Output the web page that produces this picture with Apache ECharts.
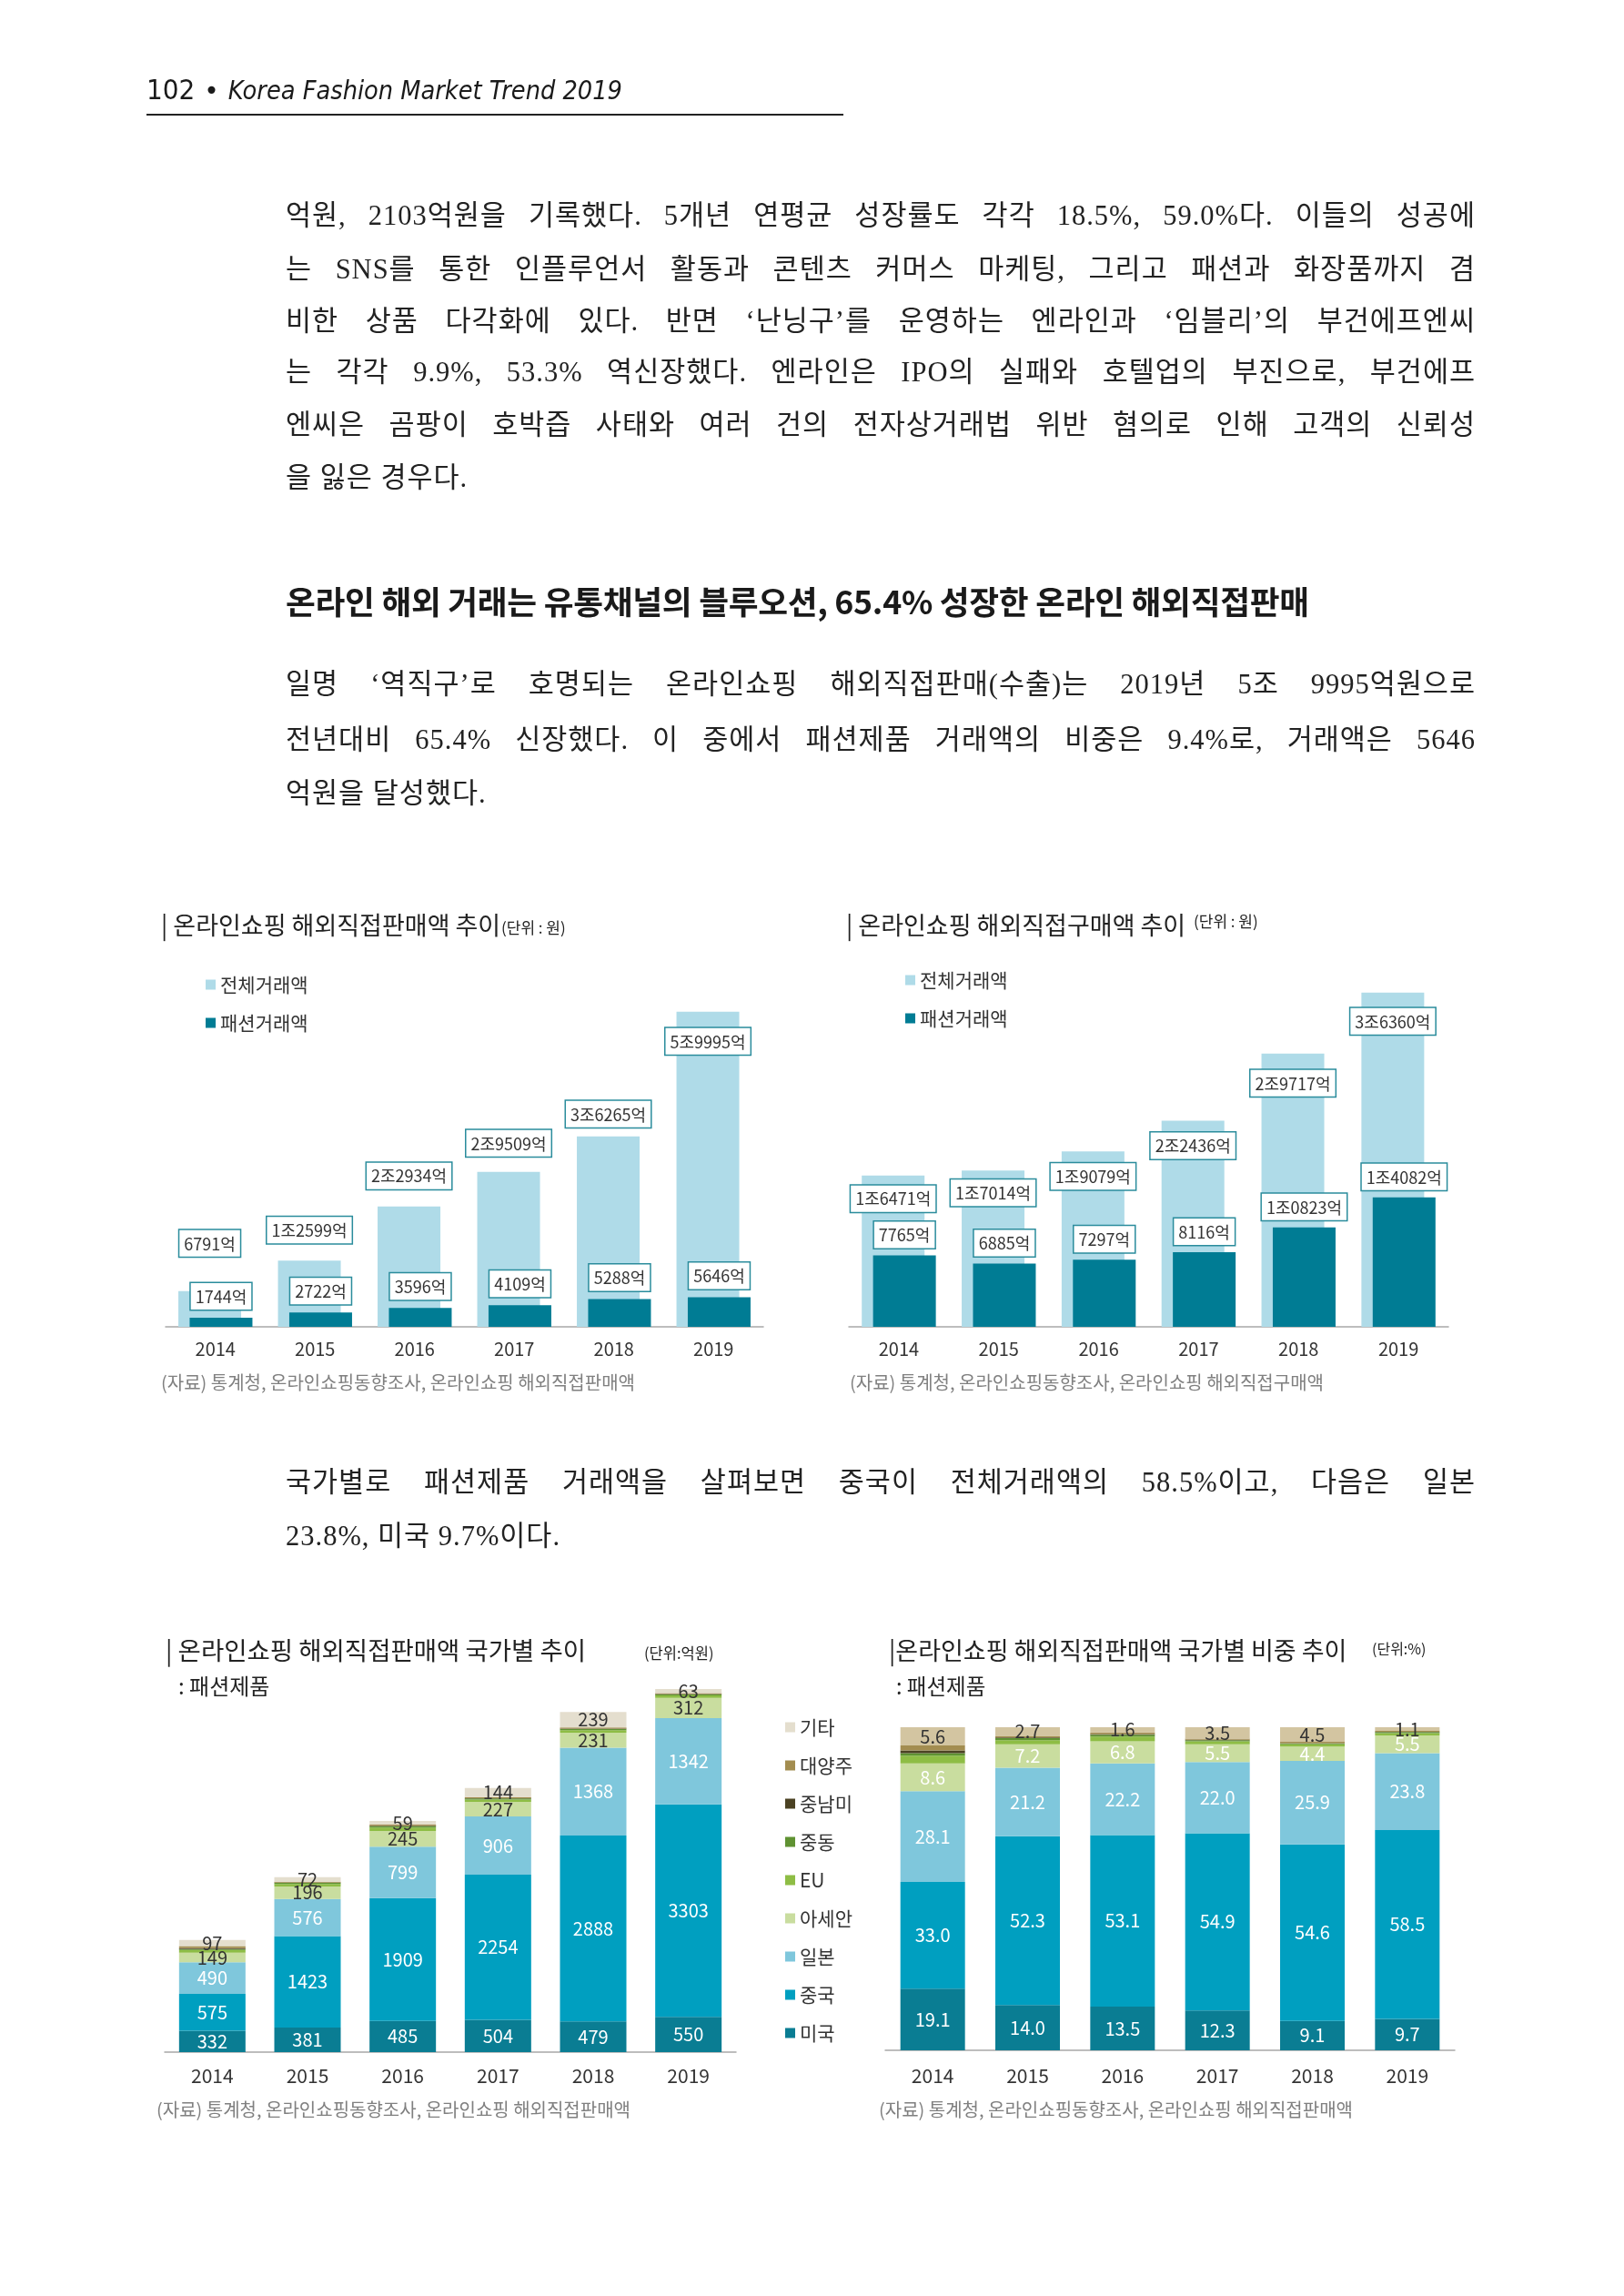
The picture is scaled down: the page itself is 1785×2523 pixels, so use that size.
<!DOCTYPE html>
<html><head><meta charset="utf-8">
<script src="https://cdn.jsdelivr.net/npm/echarts@6/dist/echarts.min.js"></script>
<style>
html,body{margin:0;padding:0;background:#fff;}
#page{position:relative;width:1785px;height:2523px;overflow:hidden;background:#fff;}
#chart{position:absolute;left:0;top:0;width:1785px;height:2523px;}
.ln{position:absolute;left:314px;width:1308px;height:60px;line-height:60px;font-family:"Liberation Serif","Noto Sans CJK KR",serif;font-size:30.5px;letter-spacing:1px;color:#222;text-align:justify;text-align-last:justify;white-space:nowrap;z-index:2;}
.ln.last{text-align:left;text-align-last:left;}
.hd{position:absolute;left:314px;width:1300px;height:50px;line-height:50px;font-family:"Noto Sans CJK KR",sans-serif;font-weight:700;font-size:35.7px;letter-spacing:-0.3px;color:#1a1a1a;z-index:2;white-space:nowrap;}
#hdr{position:absolute;left:161px;top:76px;height:44px;line-height:44px;white-space:nowrap;color:#1a1a1a;z-index:2;}
#hdr .pg{font-family:"DejaVu Sans Condensed","DejaVu Sans",sans-serif;font-size:31px;}
#hdr .bul{font-family:"DejaVu Sans",sans-serif;font-size:28px;margin:0 10px 0 10px;}
#hdr .tt{font-family:"DejaVu Sans Condensed","DejaVu Sans",sans-serif;font-style:italic;font-size:28.6px;}
#rule{position:absolute;left:161px;top:125px;width:766px;height:2px;background:#222;z-index:2;}
</style></head>
<body><div id="page">
<div id="chart"></div>
<div id="hdr"><span class="pg">102</span><span class="bul">•</span><span class="tt">Korea Fashion Market Trend 2019</span></div>
<div id="rule"></div>
<div id="text"></div>
</div>
<script>
// ---------- DATA ----------
const years = ['2014', '2015', '2016', '2017', '2018', '2019'];
// 온라인쇼핑 해외직접판매액 (억원)
const salesTotal = [6791, 12599, 22934, 29509, 36265, 59995];
const salesFashion = [1744, 2722, 3596, 4109, 5288, 5646];
// 온라인쇼핑 해외직접구매액 (억원)
const buyTotal = [16471, 17014, 19079, 22436, 29717, 36360];
const buyFashion = [7765, 6885, 7297, 8116, 10823, 14082];
// 국가별 패션제품 판매액 (억원)
const countries = ['미국', '중국', '일본', '아세안', 'EU', '중동', '중남미', '대양주', '기타'];
const amtUS = [332, 381, 485, 504, 479, 550];
const amtChina = [575, 1423, 1909, 2254, 2888, 3303];
const amtJapan = [490, 576, 799, 906, 1368, 1342];
const amtASEAN = [149, 196, 245, 227, 231, 312];
const amtEU = [44, 38, 52, 37, 41, 40];
const amtMiddleEast = [14, 17, 22, 17, 17, 16];
const amtLatAm = [14, 5, 7, 4, 5, 5];
const amtOceania = [29, 14, 18, 16, 20, 15];
const amtOther = [97, 72, 59, 144, 239, 63];
// 국가별 비중 (%)
const shrUS = [19.1, 14.0, 13.5, 12.3, 9.1, 9.7];
const shrChina = [33.0, 52.3, 53.1, 54.9, 54.6, 58.5];
const shrJapan = [28.1, 21.2, 22.2, 22.0, 25.9, 23.8];
const shrASEAN = [8.6, 7.2, 6.8, 5.5, 4.4, 5.5];
const shrEU = [2.4, 1.3, 1.5, 0.9, 0.7, 0.7];
const shrMiddleEast = [0.8, 0.6, 0.6, 0.4, 0.3, 0.3];
const shrLatAm = [0.8, 0.2, 0.2, 0.1, 0.1, 0.1];
const shrOceania = [1.6, 0.5, 0.5, 0.4, 0.4, 0.3];
const shrOther = [5.6, 2.7, 1.6, 3.5, 4.5, 1.1];

// ---------- TEXT ----------
const para1 = [
 '억원, 2103억원을 기록했다. 5개년 연평균 성장률도 각각 18.5%, 59.0%다. 이들의 성공에',
 '는 SNS를 통한 인플루언서 활동과 콘텐츠 커머스 마케팅, 그리고 패션과 화장품까지 겸',
 '비한 상품 다각화에 있다. 반면 ‘난닝구’를 운영하는 엔라인과 ‘임블리’의 부건에프엔씨',
 '는 각각 9.9%, 53.3% 역신장했다. 엔라인은 IPO의 실패와 호텔업의 부진으로, 부건에프',
 '엔씨은 곰팡이 호박즙 사태와 여러 건의 전자상거래법 위반 혐의로 인해 고객의 신뢰성',
 '을 잃은 경우다.'
];
const heading = '온라인 해외 거래는 유통채널의 블루오션, 65.4% 성장한 온라인 해외직접판매';
const para2 = [
 '일명 ‘역직구’로 호명되는 온라인쇼핑 해외직접판매(수출)는 2019년 5조 9995억원으로',
 '전년대비 65.4% 신장했다. 이 중에서 패션제품 거래액의 비중은 9.4%로, 거래액은 5646',
 '억원을 달성했다.'
];
const para3 = [
 '국가별로 패션제품 거래액을 살펴보면 중국이 전체거래액의 58.5%이고, 다음은 일본',
 '23.8%, 미국 9.7%이다.'
];

const textHost = document.getElementById('text');
function addLines(lines, ys) {
  lines.forEach((t, i) => {
    const d = document.createElement('div');
    d.className = 'ln' + (i === lines.length - 1 ? ' last' : '');
    d.style.top = (ys[i] - 30) + 'px';
    d.textContent = t;
    textHost.appendChild(d);
  });
}
addLines(para1, [237, 296, 353, 409, 467, 525]);
addLines(para2, [752, 813, 872]);
addLines(para3, [1629, 1688]);
const hd = document.createElement('div');
hd.className = 'hd'; hd.style.top = (660 - 25) + 'px'; hd.textContent = heading;
textHost.appendChild(hd);

// ---------- CHART ----------
const F = '"Noto Sans CJK KR", sans-serif';
const chart = echarts.init(document.getElementById('chart'));

function fmtEok(v) {
  if (v >= 10000) return Math.floor(v / 10000) + '조' + String(v % 10000).padStart(4, '0') + '억';
  return v + '억';
}
const boxLabel = {
  show: true, formatter: p => fmtEok(p.value), backgroundColor: '#fff',
  borderColor: '#2a8c9c', borderWidth: 1.5, padding: [6, 5, 5, 5],
  color: '#333', fontSize: 18, fontFamily: F
};
const LIGHT = '#afdbe8', DARK = '#007c94';
// label placement (layout only)
const c1LightPos = ['top', 'top', 'top', 'top', 'top', 'insideTop'];
const c1LightDist = [38, 19, 19, 17, 10, 18];
const c2LightDist = [11, 10, 13, 13, 18, 17];

const colors3 = ['#0a7d93', '#009fc0', '#7fc7dc', '#c9dd9f', '#8ebd45', '#5f9232', '#4b4223', '#a38d50', '#e4dece'];
const colors4 = ['#0a7d93', '#009fc0', '#7fc7dc', '#c9dd9f', '#8ebd45', '#5f9232', '#4b4223', '#a38d50', '#d3c5a1'];
const amounts = [amtUS, amtChina, amtJapan, amtASEAN, amtEU, amtMiddleEast, amtLatAm, amtOceania, amtOther];
const shares = [shrUS, shrChina, shrJapan, shrASEAN, shrEU, shrMiddleEast, shrLatAm, shrOceania, shrOther];
const labeled = { '미국': '#fff', '중국': '#fff', '일본': '#fff', '아세안': '#333', '기타': '#333' };
const labeled4 = { '미국': '#fff', '중국': '#fff', '일본': '#fff', '아세안': '#fff', '기타': '#333' };

const axisLine = { show: true, lineStyle: { color: '#a8a8a8', width: 1.5 } };
function xAx(gi, fs, margin) {
  return { type: 'category', gridIndex: gi, data: years, axisLine: axisLine, axisTick: { show: false },
    axisLabel: { fontSize: fs, color: '#333', fontFamily: F, margin: margin } };
}
function yAx(gi, max) {
  return { type: 'value', gridIndex: gi, min: 0, max: max, show: false, splitLine: { show: false } };
}

const series = [
  { name: '전체거래액', type: 'bar', xAxisIndex: 0, yAxisIndex: 0, barWidth: 69, itemStyle: { color: LIGHT },
    label: boxLabel,
    data: salesTotal.map((v, i) => ({ value: v, label: { position: c1LightPos[i], distance: c1LightDist[i] } })) },
  { name: '패션거래액', type: 'bar', xAxisIndex: 0, yAxisIndex: 0, barWidth: 69, barGap: '-82%', itemStyle: { color: DARK },
    label: Object.assign({}, boxLabel, { position: 'top', distance: 9 }), data: salesFashion },
  { name: '전체거래액', type: 'bar', xAxisIndex: 1, yAxisIndex: 1, barWidth: 69, itemStyle: { color: LIGHT },
    label: Object.assign({}, boxLabel, { position: 'insideTop' }),
    data: buyTotal.map((v, i) => ({ value: v, label: { distance: c2LightDist[i] } })) },
  { name: '패션거래액', type: 'bar', xAxisIndex: 1, yAxisIndex: 1, barWidth: 69, barGap: '-82%', itemStyle: { color: DARK },
    label: Object.assign({}, boxLabel, { position: 'top', distance: 8 }), data: buyFashion }
];
countries.forEach((c, k) => {
  series.push({ name: c, type: 'bar', stack: 'amt', xAxisIndex: 2, yAxisIndex: 2, barWidth: 73,
    itemStyle: { color: colors3[k] },
    label: { show: !!labeled[c], position: 'inside', color: labeled[c] || '#333', fontSize: 20, fontFamily: F },
    data: amounts[k] });
});
countries.forEach((c, k) => {
  series.push({ name: c, type: 'bar', stack: 'shr', xAxisIndex: 3, yAxisIndex: 3, barWidth: 71,
    itemStyle: { color: colors4[k] },
    label: { show: !!labeled4[c], position: 'inside', color: labeled4[c] || '#333', fontSize: 20, fontFamily: F,
      formatter: p => p.value.toFixed(1) },
    data: shares[k] });
});

function txt(x, y, s, size, color) {
  return { type: 'text', x: x, y: y, silent: true,
    style: { text: s, fontSize: size, fontFamily: F, fill: color || '#222', verticalAlign: 'middle', align: 'left' } };
}
const src1 = '(자료) 통계청, 온라인쇼핑동향조사, 온라인쇼핑 해외직접판매액';
const src2 = '(자료) 통계청, 온라인쇼핑동향조사, 온라인쇼핑 해외직접구매액';
const graphics = [
  txt(177, 1017, '| 온라인쇼핑 해외직접판매액 추이', 27),
  txt(551, 1020, '(단위 : 원)', 17),
  txt(930, 1017, '| 온라인쇼핑 해외직접구매액 추이', 27),
  txt(1312, 1013, '(단위 : 원)', 17),
  txt(182, 1814, '| 온라인쇼핑 해외직접판매액 국가별 추이', 27.5),
  txt(708, 1817, '(단위:억원)', 16.5),
  txt(196, 1853, ': 패션제품', 24),
  txt(977, 1814, '|온라인쇼핑 해외직접판매액 국가별 비중 추이', 27),
  txt(1508, 1812, '(단위:%)', 16),
  txt(985, 1853, ': 패션제품', 23.5),
  txt(177, 1519, src1, 20, '#808080'),
  txt(934, 1519, src2, 20, '#808080'),
  txt(172, 2318, src1, 20, '#808080'),
  txt(966, 2318, src1, 20, '#808080')
];

const legendText = { fontSize: 21, color: '#333', fontFamily: F, lineHeight: 22 };
chart.setOption({
  animation: false,
  backgroundColor: '#fff',
  grid: [
    { left: 182, top: 1054, width: 657, height: 404 },
    { left: 933, top: 1054, width: 659, height: 404 },
    { left: 181, top: 1831, width: 628, height: 424 },
    { left: 973, top: 1898, width: 626, height: 355 }
  ],
  xAxis: [xAx(0, 20, 14), xAx(1, 20, 14), xAx(2, 21, 16), xAx(3, 21, 18)],
  yAxis: [yAx(0, 70000), yAx(1, 40000), yAx(2, 6000), yAx(3, 100)],
  legend: [
    { data: ['전체거래액', '패션거래액'], orient: 'vertical', left: 221, top: 1066, itemGap: 20,
      itemWidth: 11, itemHeight: 11, icon: 'rect', textStyle: legendText, selectedMode: false },
    { data: ['전체거래액', '패션거래액'], orient: 'vertical', left: 990, top: 1061, itemGap: 20,
      itemWidth: 11, itemHeight: 11, icon: 'rect', textStyle: legendText, selectedMode: false },
    { data: countries.slice().reverse(), orient: 'vertical', left: 858, top: 1882, itemGap: 20,
      itemWidth: 11, itemHeight: 11, icon: 'rect', textStyle: legendText, selectedMode: false }
  ],
  graphic: graphics,
  series: series
});
</script>
</body></html>
